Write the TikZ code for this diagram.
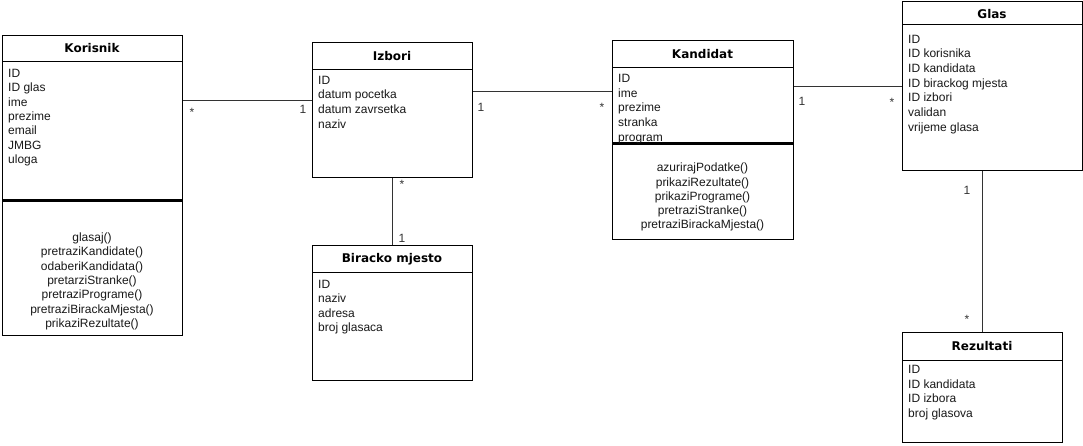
\documentclass[tikz,border=0pt]{standalone}
\usepackage{fontspec}
\setmainfont{Liberation Sans}
\newfontfamily\hdfont{DejaVu Sans}
\begin{document}
\begin{tikzpicture}[x=1pt,y=-1pt,
  box/.style={draw=black,line width=1pt,fill=white,rectangle,inner sep=0pt,anchor=north west},
  sep/.style={draw=black,line width=1pt},
  thick sep/.style={draw=black,line width=3pt},
  conn/.style={draw=black!80,line width=1pt},
  hdr/.style={font=\hdfont\bfseries\fontsize{12}{14.4}\selectfont,inner sep=0pt,anchor=base},
  attr/.style={font=\fontsize{12}{14.4}\selectfont,inner sep=0pt,anchor=base west,text=black!90},
  meth/.style={font=\fontsize{12}{14.4}\selectfont,inner sep=0pt,anchor=base,text=black!90},
  mult/.style={font=\fontsize{12}{14.4}\selectfont,inner sep=0pt,anchor=base,text=black!80}]
\useasboundingbox (0,0) rectangle (1083,446);
% boxes
\node[box,minimum width=180pt,minimum height=300pt] (kor) at (2,35) {};
\node[box,minimum width=160pt,minimum height=135pt] (izb) at (312,42) {};
\node[box,minimum width=160pt,minimum height=135pt] (bir) at (312,245) {};
\node[box,minimum width=181pt,minimum height=199pt] (kan) at (612,40) {};
\node[box,minimum width=180pt,minimum height=169pt] (gla) at (902,1) {};
\node[box,minimum width=160pt,minimum height=110pt] (rez) at (902,332) {};
% header separators
\draw[sep] (kor.west |- 0,62) -- (kor.east |- 0,62);
\draw[sep] (izb.west |- 0,70) -- (izb.east |- 0,70);
\draw[sep] (bir.west |- 0,272) -- (bir.east |- 0,272);
\draw[sep] (kan.west |- 0,68) -- (kan.east |- 0,68);
\draw[sep] (gla.west |- 0,25) -- (gla.east |- 0,25);
\draw[sep] (rez.west |- 0,360) -- (rez.east |- 0,360);
% thick separators
\draw[thick sep] (kor.west |- 0,201) -- (kor.east |- 0,201);
\draw[thick sep] (kan.west |- 0,144) -- (kan.east |- 0,144);
% headers
\node[hdr] (kor-h) at (92,52.9) {Korisnik};
\node[hdr] (izb-h) at (392,60.4) {Izbori};
\node[hdr] (bir-h) at (392,262.4) {Biracko mjesto};
\node[hdr] (kan-h) at (702.5,58.4) {Kandidat};
\node[hdr] (gla-h) at (992,18.4) {Glas};
\node[hdr] (rez-h) at (982,350.4) {Rezultati};
% attributes
\foreach \t [count=\i] in {ID,ID glas,ime,prezime,email,JMBG,uloga}
  \node[attr] (kor-a\i) at (8,{77.3+14.4*(\i-1)}) {\t};
\foreach \t [count=\i] in {glasaj(),pretraziKandidate(),odaberiKandidata(),pretarziStranke(),pretraziPrograme(),pretraziBirackaMjesta(),prikaziRezultate()}
  \node[meth] (kor-m\i) at (92,{241.5+14.3*(\i-1)}) {\t};
\foreach \t [count=\i] in {ID,datum pocetka,datum zavrsetka,naziv}
  \node[attr] (izb-a\i) at (318,{84.3+14.6*(\i-1)}) {\t};
\foreach \t [count=\i] in {ID,naziv,adresa,broj glasaca}
  \node[attr] (bir-a\i) at (318,{288.3+14.4*(\i-1)}) {\t};
\foreach \t [count=\i] in {ID,ime,prezime,stranka,program}
  \node[attr] (kan-a\i) at (618,{82.3+14.8*(\i-1)}) {\t};
\foreach \t [count=\i] in {azurirajPodatke(),prikaziRezultate(),prikaziPrograme(),pretraziStranke(),pretraziBirackaMjesta()}
  \node[meth] (kan-m\i) at (702.5,{172+14.25*(\i-1)}) {\t};
\foreach \t [count=\i] in {ID,ID korisnika,ID kandidata,ID birackog mjesta,ID izbori,validan,vrijeme glasa}
  \node[attr] (gla-a\i) at (908,{43.3+14.67*(\i-1)}) {\t};
\foreach \t [count=\i] in {ID,ID kandidata,ID izbora,broj glasova}
  \node[attr] (rez-a\i) at (908,{373.3+14.8*(\i-1)}) {\t};
% connectors
\draw[conn] (kor.east |- 0,100.5) -- (izb.west |- 0,100.5);
\draw[conn] (izb.east |- 0,92) -- (kan.west |- 0,92);
\draw[conn] (kan.east |- 0,87) -- (gla.west |- 0,87);
\draw[conn] (izb.south) -- (bir.north);
\draw[conn] (gla.south -| rez.north) -- (rez.north);
% multiplicities
\node[mult] (m1) at (192,116.5) {*};
\node[mult] (m2) at (303,113.3) {1};
\node[mult] (m3) at (481,111.3) {1};
\node[mult] (m4) at (602,111.5) {*};
\node[mult] (m5) at (802,105.3) {1};
\node[mult] (m6) at (892,106.5) {*};
\node[mult] (m7) at (402,188.5) {*};
\node[mult] (m8) at (402,242.3) {1};
\node[mult] (m9) at (967,194.3) {1};
\node[mult] (m10) at (967,323.5) {*};
\end{tikzpicture}
\end{document}
